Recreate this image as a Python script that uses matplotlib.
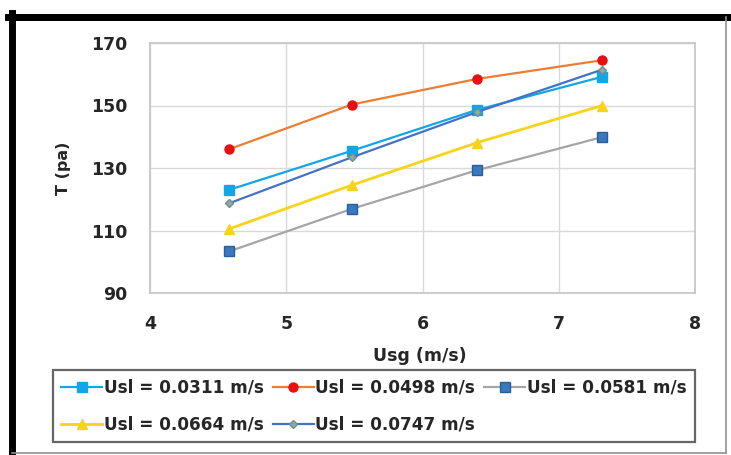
""" Shear stress vs superficial gas velocity for several liquid velocities. """

import matplotlib
matplotlib.use("Agg")
import matplotlib.pyplot as plt  # type: ignore
from matplotlib import ticker  # type: ignore
from matplotlib.lines import Line2D  # type: ignore

usg = [4.58, 5.48, 6.40, 7.32]
t_0311 = [123.0, 135.5, 148.6, 159.2]
t_0498 = [136.0, 150.3, 158.5, 164.5]
t_0581 = [103.3, 116.9, 129.3, 139.9]
t_0664 = [110.5, 124.5, 138.1, 150.0]
t_0747 = [118.7, 133.4, 147.9, 161.5]
labels = ["Usl = 0.0311 m/s", "Usl = 0.0498 m/s", "Usl = 0.0581 m/s",
          "Usl = 0.0664 m/s", "Usl = 0.0747 m/s"]
x_ticks = [4, 5, 6, 7, 8]
y_ticks = [90, 110, 130, 150, 170]

W, H = 731, 455
plt.rcParams["font.family"] = ["DejaVu Sans"]
plt.rcParams["font.weight"] = "bold"
plt.rcParams["axes.labelweight"] = "bold"
plt.rcParams["font.size"] = 12.5

fig = plt.figure(figsize=(W / 100, H / 100), dpi=100)
axes = fig.add_axes([150 / W, 1 - 293 / H, 545 / W, 250 / H])

h1, = axes.plot(usg, t_0311, color="#12A6E8", lw=1.6, marker="s", ms=7,
                mfc="#12A6E8", mec="#12A6E8", label=labels[0])
h2, = axes.plot(usg, t_0498, color="#ED7D31", lw=1.6, marker="o", ms=6.5,
                mfc="#E8100E", mec="#E8100E", label=labels[1])
h3, = axes.plot(usg, t_0581, color="#A5A5A5", lw=1.6, marker="s", ms=7,
                mfc="#3C78BE", mec="#2A5E9A", label=labels[2])
h4, = axes.plot(usg, t_0664, color="#F7D417", lw=2.0, marker="^", ms=7,
                mfc="#F7D417", mec="#F7D417", label=labels[3])
h5, = axes.plot(usg, t_0747, color="#4472C4", lw=1.6, marker="D", ms=4.5,
                mfc="#8FAAA6", mec="#6F8F8F", label=labels[4])

axes.set_xlim(4, 8)
axes.set_ylim(90, 170)
axes.xaxis.set_major_locator(ticker.FixedLocator(x_ticks))
axes.yaxis.set_major_locator(ticker.FixedLocator(y_ticks))
axes.grid(True, color="#D9D9D9", lw=1.0)
axes.set_axisbelow(True)
for spine in axes.spines.values():
    spine.set_color("#C8C8C8")
    spine.set_linewidth(1.3)
axes.tick_params(length=0, pad=16, colors="#262626")
axes.set_xlabel("Usg (m/s)", fontsize=12.5, color="#262626")
axes.set_ylabel("T (pa)", fontsize=11.5, color="#262626")
axes.xaxis.set_label_coords(0.495, -0.215)
axes.yaxis.set_label_coords(-0.145, 0.5)

# column-major fill: reorder so rows read 0311 0498 0581 / 0664 0747
leg = fig.legend([h1, h4, h2, h5, h3],
                 [labels[0], labels[3], labels[1], labels[4], labels[2]],
                 ncol=3, loc="upper left", fontsize=12.2,
                 bbox_to_anchor=(53 / W, 1 - 370 / H),
                 borderaxespad=0, handlelength=2.4, handletextpad=0.1,
                 columnspacing=0.55, labelspacing=1.15, borderpad=0.5,
                 fancybox=False, frameon=True)
leg.get_frame().set_edgecolor("#404040")
leg.get_frame().set_linewidth(1.6)
for text in leg.get_texts():
    text.set_color("#262626")

# outer chart frame
fig.add_artist(Line2D([11.5 / W, 11.5 / W], [0, 1 - 13 / H],
                      color="black", lw=5, transform=fig.transFigure))
fig.add_artist(Line2D([8 / W, 729 / W], [1 - 16.5 / H, 1 - 16.5 / H],
                      color="black", lw=5, transform=fig.transFigure))
fig.add_artist(Line2D([726 / W, 726 / W], [2 / H, 1 - 16.5 / H],
                      color="#909090", lw=1.2, transform=fig.transFigure))
fig.add_artist(Line2D([11.5 / W, 726 / W], [2 / H, 2 / H],
                      color="#909090", lw=1.2, transform=fig.transFigure))

fig.savefig("out.png", dpi=100)
